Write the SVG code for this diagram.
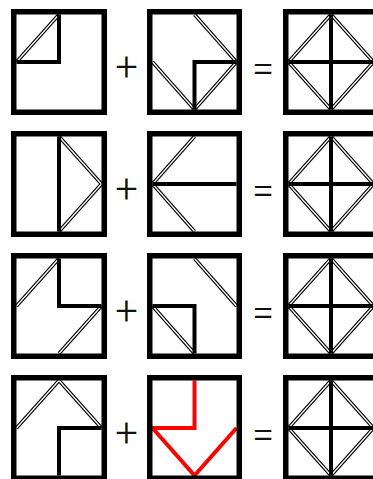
<svg xmlns="http://www.w3.org/2000/svg" width="373" height="479" viewBox="0 0 373 479">
<style>
.frame{fill:none;stroke:#000;stroke-width:5.5}
.th{fill:none;stroke:#000;stroke-width:4;stroke-linejoin:miter}
.red{fill:none;stroke:#ff0000;stroke-width:4;stroke-linejoin:miter}
.dO{fill:none;stroke:#000;stroke-width:3.6}
.dI{fill:none;stroke:#fff;stroke-width:1.3}
.op{font-family:Roboto,"DejaVu Sans",sans-serif;font-weight:300;font-size:40px;fill:#111;text-anchor:middle}
</style>
<rect width="373" height="479" fill="#fff"/>
<g id="r1c1">
<path class="dO" d="M16.5 62 L59 14.5"/><path class="dI" d="M16.5 62 L59 14.5"/>
<path class="th" d="M59 14.5 V62 H16.5"/>
<rect class="frame" x="13.75" y="11.75" width="90.5" height="100.5"/>
</g>
<g id="r1c2">
<path class="dO" d="M194.5 14.5 L236.5 62 L194.5 109.5 L152.5 62"/><path class="dI" d="M194.5 14.5 L236.5 62 L194.5 109.5 L152.5 62"/>
<path class="th" d="M194.5 109.5 V62 H236.5"/>
<rect class="frame" x="149.75" y="11.75" width="89.5" height="100.5"/>
</g>
<g id="r1c3">
<path class="dO" d="M331 14.5 L373.5 62 L331 109.5 L288.5 62 Z"/><path class="dI" d="M331 14.5 L373.5 62 L331 109.5 L288.5 62 Z"/>
<path class="th" d="M331 14.5 V109.5 M288.5 62 H373.5"/>
<rect class="frame" x="285.75" y="11.75" width="90.5" height="100.5"/>
</g>
<g id="r2c1">
<path class="dO" d="M59 136.5 L101.5 184 L59 231.5"/><path class="dI" d="M59 136.5 L101.5 184 L59 231.5"/>
<path class="th" d="M59 136.5 V231.5"/>
<rect class="frame" x="13.75" y="133.75" width="90.5" height="100.5"/>
</g>
<g id="r2c2">
<path class="dO" d="M194.5 136.5 L152.5 184 L194.5 231.5"/><path class="dI" d="M194.5 136.5 L152.5 184 L194.5 231.5"/>
<path class="th" d="M152.5 184 H236.5"/>
<rect class="frame" x="149.75" y="133.75" width="89.5" height="100.5"/>
</g>
<g id="r2c3">
<path class="dO" d="M331 136.5 L373.5 184 L331 231.5 L288.5 184 Z"/><path class="dI" d="M331 136.5 L373.5 184 L331 231.5 L288.5 184 Z"/>
<path class="th" d="M331 136.5 V231.5 M288.5 184 H373.5"/>
<rect class="frame" x="285.75" y="133.75" width="90.5" height="100.5"/>
</g>
<g id="r3c1">
<path class="dO" d="M59 258.5 L16.5 306 M101.5 306 L59 353.5"/><path class="dI" d="M59 258.5 L16.5 306 M101.5 306 L59 353.5"/>
<path class="th" d="M59 258.5 V306 H101.5"/>
<rect class="frame" x="13.75" y="255.75" width="90.5" height="100.5"/>
</g>
<g id="r3c2">
<path class="dO" d="M152.5 306 L194.5 353.5 M194.5 258.5 L236.5 306"/><path class="dI" d="M152.5 306 L194.5 353.5 M194.5 258.5 L236.5 306"/>
<path class="th" d="M152.5 306 H194.5 V353.5"/>
<rect class="frame" x="149.75" y="255.75" width="89.5" height="100.5"/>
</g>
<g id="r3c3">
<path class="dO" d="M331 258.5 L373.5 306 L331 353.5 L288.5 306 Z"/><path class="dI" d="M331 258.5 L373.5 306 L331 353.5 L288.5 306 Z"/>
<path class="th" d="M331 258.5 V353.5 M288.5 306 H373.5"/>
<rect class="frame" x="285.75" y="255.75" width="90.5" height="100.5"/>
</g>
<g id="r4c1">
<path class="dO" d="M16.5 428 L59 380.5 L101.5 428"/><path class="dI" d="M16.5 428 L59 380.5 L101.5 428"/>
<path class="th" d="M59 475.5 V428 H101.5"/>
<rect class="frame" x="13.75" y="377.75" width="90.5" height="100.5"/>
</g>
<g id="r4c2">
<path class="red" d="M194.5 380.5 V428 H152.5 L194.5 475.5 L236.5 428"/>
<rect class="frame" x="149.75" y="377.75" width="89.5" height="100.5"/>
</g>
<g id="r4c3">
<path class="dO" d="M331 380.5 L373.5 428 L331 475.5 L288.5 428 Z"/><path class="dI" d="M331 380.5 L373.5 428 L331 475.5 L288.5 428 Z"/>
<path class="th" d="M331 380.5 V475.5 M288.5 428 H373.5"/>
<rect class="frame" x="285.75" y="377.75" width="90.5" height="100.5"/>
</g>
<g id="ops">
<text class="op" x="126.5" y="81">+</text>
<text class="op" x="263" y="82">=</text>
<text class="op" x="126.5" y="203">+</text>
<text class="op" x="263" y="204">=</text>
<text class="op" x="126.5" y="325">+</text>
<text class="op" x="263" y="326">=</text>
<text class="op" x="126.5" y="447">+</text>
<text class="op" x="263" y="448">=</text>
</g>
</svg>
